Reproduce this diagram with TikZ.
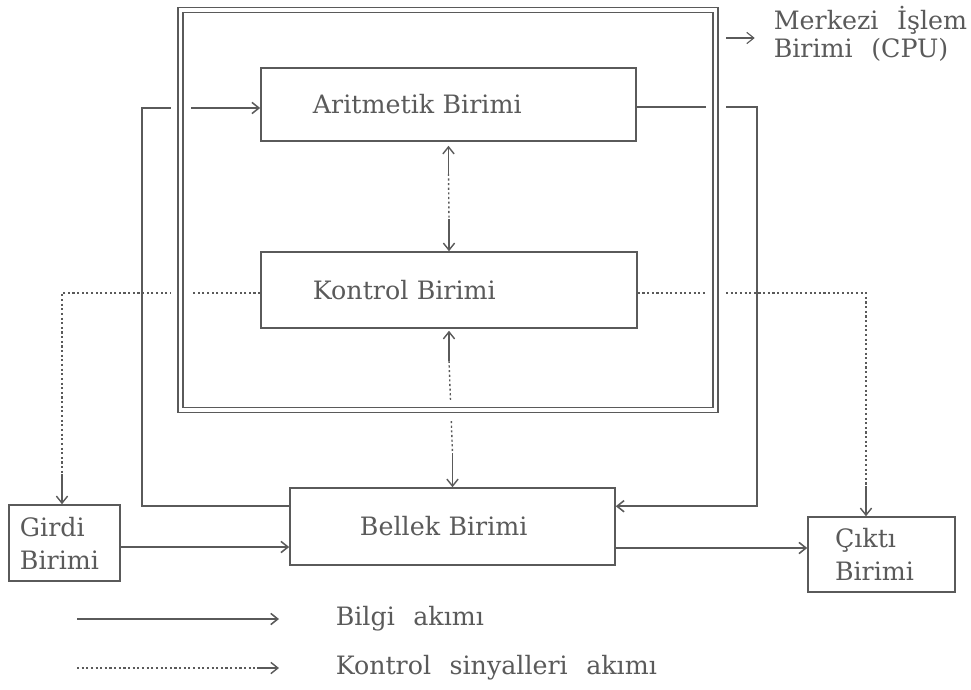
\documentclass[tikz,border=0pt]{standalone}
\usepackage{fontspec}
\setmainfont[WordSpace=2.3]{DejaVu Serif}
\usepackage{xcolor}
\usetikzlibrary{arrows.meta,positioning,calc}
\definecolor{ink}{RGB}{90,90,90}

\begin{document}
\begin{tikzpicture}[x=0.025cm, y=-0.025cm, >={Straight Barb[length=5pt,width=8pt]},
  color=ink, text=ink, line width=1.1pt, font=\fontsize{18}{23.5}\selectfont,
  birim/.style={draw, align=left, inner ysep=0pt},
  bilgi/.style={->, line width=1.1pt},
  kontrol/.style={line width=1pt, dash pattern=on 1.5pt off 1.8pt},
  uc/.style={solid, ->, line width=1pt}]

  \useasboundingbox (0,0) rectangle (971,689);

  % Define nodes
  \node[birim, minimum height=1.825cm, text width=6.775cm, inner xsep=1.3cm] (arit) at (448.5,104.5) {Aritmetik Birimi};
  \node[birim, minimum height=1.9cm, text width=6.8cm, inner xsep=1.3cm] (kont) at (449,290) {Kontrol Birimi};
  \node[birim, minimum height=1.925cm, text width=4.625cm, inner xsep=1.75cm] (bell) at (452.5,526.5) {Bellek Birimi};
  \node[birim, minimum height=1.9cm, text width=2.225cm, inner xsep=0.275cm] (girdi) at (64.5,543) {Girdi\\Birimi};
  \node[birim, minimum height=1.875cm, text width=2.325cm, inner xsep=0.675cm] (cikti) at (881.5,554.5) {Çıktı\\Birimi};
  \node[anchor=west, align=left, inner sep=0pt, font=\fontsize{18}{20}\selectfont] (cpu) at (773,34) {Merkezi İşlem\\Birimi (CPU)};

  \coordinate (solU) at (142,108);
  \coordinate (sagU) at (757,107);
  \coordinate (gir) at (0,547);
  \coordinate (cik) at (0,548);
  \coordinate (kL) at (62,293);
  \coordinate (kR) at (866,293);
  \coordinate (cpuA) at (726,38);

  % Draw arrows
  \draw[bilgi] ($(bell.north west)+(0,19)$) -| (solU) -- (solU -| arit.west);
  \draw[bilgi] (sagU -| arit.east) -- (sagU) |- ($(bell.north east)+(0,19)$);
  \draw[bilgi] (girdi.east |- gir) -- (bell.west |- gir);
  \draw[bilgi] (bell.east |- cik) -- (cikti.west |- cik);
  \draw[kontrol] (kont.west |- kL) -- (kL) -- ($(kL |- girdi.north)+(0,-30)$) edge[uc] (kL |- girdi.north);
  \draw[kontrol] (kont.east |- kR) -- (kR) -- ($(kR |- cikti.north)+(0,-30)$) edge[uc] (kR |- cikti.north);
  \draw[kontrol] ($(arit.south)+(0,32)$) -- ($(kont.north)+(0,-32)$) edge[uc] (kont.north);
  \draw[uc] ($(arit.south)+(0,32)$) -- ($(arit.south)+(0,4)$);
  \draw[kontrol] ($(kont.south)+(0,32)$) -- ($(bell.north)+(0,-34)$) edge[uc] (bell.north);
  \draw[uc] ($(kont.south)+(0,32)$) -- ($(kont.south)+(0,2)$);
  \draw[bilgi, line width=0.8pt, shorten >=13pt] (cpuA) -- (cpuA -| cpu.west);

  % CPU frame
  \draw[white, line width=0.5cm] (180.5,10) rectangle (715.5,410);
  \draw[double=white, double distance=2.6pt, line width=0.9pt] (180.5,10) rectangle (715.5,410);

  % Legend
  \coordinate (bilA) at (77,619);
  \coordinate (konA) at (77,668);
  \node[anchor=west, inner sep=0pt] (bil) at (335,619) {Bilgi akımı};
  \node[anchor=west, inner sep=0pt] (kon) at (335,668) {Kontrol sinyalleri akımı};
  \draw[bilgi] (bilA) -- ($(bil.west)+(-56,0)$);
  \draw[kontrol] (konA) -- ($(kon.west)+(-78,0)$) edge[uc] ($(kon.west)+(-56,0)$);
\end{tikzpicture}
\end{document}
